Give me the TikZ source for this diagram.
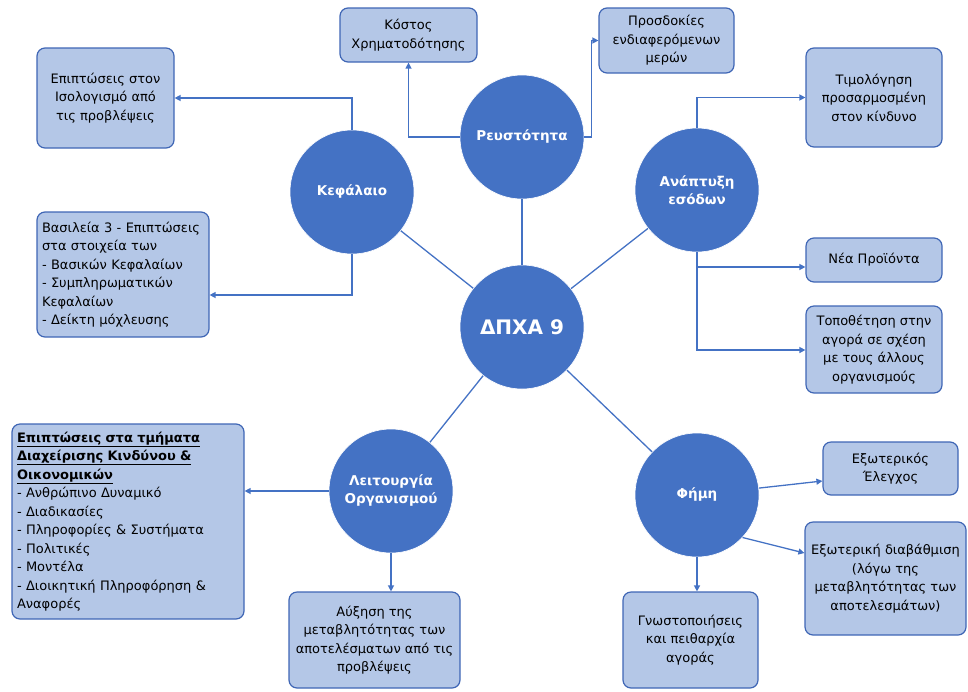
\documentclass[tikz,border=0pt]{standalone}
\usepackage{fontspec}
\setmainfont{DejaVu Sans}
\usetikzlibrary{arrows.meta,calc}
\definecolor{hubblue}{HTML}{4472C4}
\definecolor{boxfill}{HTML}{B4C7E7}
\definecolor{boxline}{HTML}{3F66B5}
\definecolor{linkblue}{HTML}{4472C4}
\tikzset{
  hub/.style={circle, fill=hubblue, draw=white, line width=0.6pt, text=white, align=center,
    minimum size=124pt, inner sep=0pt, font=\bfseries\fontsize{13.5}{18}\selectfont},
  infobox/.style={draw=boxline, fill=boxfill, rounded corners=8pt, line width=1.2pt,
    align=center, inner sep=3pt, font=\fontsize{13}{18.5}\selectfont},
  link/.style={draw=linkblue, line width=1.3pt},
  arr/.style={link, -{Triangle[length=6pt,width=6pt]}}
}
\begin{document}
\begin{tikzpicture}[x=1pt,y=-1pt]
\useasboundingbox (0,0) rectangle (968,691);
% hubs
\node[hub, font=\bfseries\fontsize{20}{22}\selectfont] (C) at (522,327) {ΔΠΧΑ 9};
\node[hub] (R) at (522,137) {Ρευστότητα};
\node[hub] (K) at (352,192) {Κεφάλαιο};
\node[hub] (A) at (697,190) {Ανάπτυξη\\εσόδων};
\node[hub] (L) at (391,491) {Λειτουργία\\Οργανισμού};
\node[hub] (F) at (697,495) {Φήμη};
% boxes
\node[infobox, minimum width=137pt, minimum height=100pt] (b1) at (105.5,98) {Επιπτώσεις στον\\Ισολογισμό από\\τις προβλέψεις};
\node[infobox, minimum width=137pt, minimum height=54pt] (b2) at (408.5,35) {Κόστος\\Χρηματοδότησης};
\node[infobox, minimum width=135pt, minimum height=65pt] (b3) at (666.5,40.5) {Προσδοκίες\\ενδιαφερόμενων\\μερών};
\node[infobox, minimum width=136pt, minimum height=99pt] (b4) at (874,97.5) {Τιμολόγηση\\προσαρμοσμένη\\στον κίνδυνο};
\node[infobox, align=left, text width=162pt, inner xsep=5pt, minimum height=125pt] (b5) at (123,274.5) {Βασιλεία 3 - Επιπτώσεις\\στα στοιχεία των\\- Βασικών Κεφαλαίων\\- Συμπληρωματικών\\Κεφαλαίων\\- Δείκτη μόχλευσης};
\node[infobox, minimum width=136pt, minimum height=44pt] (b6) at (874,260) {Νέα Προϊόντα};
\node[infobox, minimum width=136pt, minimum height=87pt] (b7) at (874,349.5) {Τοποθέτηση στην\\αγορά σε σχέση\\με τους άλλους\\οργανισμούς};
\node[infobox, align=left, text width=222pt, inner xsep=5pt, minimum height=195pt] (b8) at (128,521.5) {\textbf{\underline{Επιπτώσεις στα τμήματα}}\\\textbf{\underline{Διαχείρισης Κινδύνου \&}}\\\textbf{\underline{Οικονομικών}}\\- Ανθρώπινο Δυναμικό\\- Διαδικασίες\\- Πληροφορίες \& Συστήματα\\- Πολιτικές\\- Μοντέλα\\- Διοικητική Πληροφόρηση \&\\Αναφορές};
\node[infobox, minimum width=171pt, minimum height=96pt] (b9) at (374.5,640) {Αύξηση της\\μεταβλητότητας των\\αποτελέσματων από τις\\προβλέψεις};
\node[infobox, minimum width=135pt, minimum height=53pt] (b10) at (890.5,468.5) {Εξωτερικός\\Έλεγχος};
\node[infobox, minimum width=161pt, minimum height=113pt] (b11) at (885.5,578.5) {Εξωτερική διαβάθμιση\\(λόγω της\\μεταβλητότητας των\\αποτελεσμάτων)};
\node[infobox, minimum width=135pt, minimum height=96pt] (b12) at (690.5,640) {Γνωστοποιήσεις\\και πειθαρχία\\αγοράς};
% hub links
\draw[link] (C) -- (R);
\draw[link] (C) -- (K);
\draw[link] (C) -- (A);
\draw[link] (C) -- (L);
\draw[link] (C) -- (F);
% arrows
\draw[arr] (K.north) |- (b1.east);
\draw[arr] (K.south) |- (b5.east |- 0,295);
\draw[arr] (R.west) -| (b2.south);
\draw[arr] (R.east) -- ++(7,0) |- (b3.west);
\draw[arr] (A.north) |- (b4.west);
\draw[arr] (A.south) |- (b6.west |- 0,267);
\draw[arr] (A.south) |- (b7.west |- 0,350);
\draw[arr] (L.west) -- (L.west -| b8.east);
\draw[arr] (L.south) -- (L.south |- b9.north);
\draw[arr] (F) -- (b10.west |- 0,481);
\draw[arr] (F.-43) -- (b11.west |- 0,553);
\draw[arr] (F.south) -- (F.south |- b12.north);
\end{tikzpicture}
\end{document}
